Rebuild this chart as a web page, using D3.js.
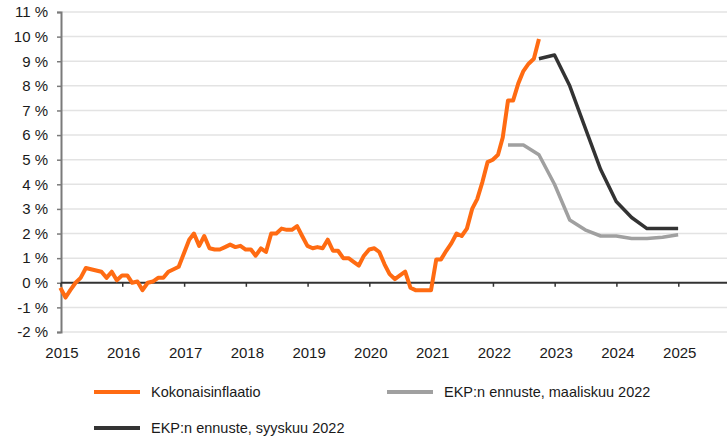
<!DOCTYPE html>
<html>
<head>
<meta charset="utf-8">
<script src="https://cdn.jsdelivr.net/npm/d3@7"></script>
<style>
  body { margin: 0; background: #fff; }
  svg text { font-family: "Liberation Sans", Arial, sans-serif; fill: #1a1a1a; }
</style>
</head>
<body>
<div id="chart"></div>
<script>
// euro area inflation, monthly, first point = Dec 2014
var inflationStart = [2014, 11];
var inflation = [-0.2, -0.6, -0.3, 0.0, 0.2, 0.6, 0.55, 0.5, 0.45, 0.2, 0.45, 0.1,
  0.3, 0.3, 0.0, 0.05, -0.3, 0.0, 0.05, 0.2, 0.2, 0.45, 0.55, 0.65,
  1.2, 1.75, 2.0, 1.5, 1.9, 1.4, 1.35, 1.35, 1.45, 1.55, 1.45, 1.5,
  1.35, 1.35, 1.1, 1.4, 1.25, 2.0, 2.0, 2.2, 2.15, 2.15, 2.3, 1.9,
  1.5, 1.4, 1.45, 1.4, 1.75, 1.3, 1.3, 1.0, 1.0, 0.85, 0.7, 1.1,
  1.35, 1.4, 1.25, 0.75, 0.35, 0.15, 0.3, 0.45, -0.2, -0.3, -0.3, -0.3,
  -0.3, 0.95, 0.95, 1.3, 1.6, 2.0, 1.9, 2.2, 3.0, 3.4, 4.1, 4.9,
  5.0, 5.2, 5.9, 7.4, 7.4, 8.1, 8.6, 8.9, 9.1, 9.9];

// ECB projections, quarterly (quarter end month)
var marchStart = [2022, 2];   // Q1 2022
var marchProj = [5.6, 5.6, 5.2, 4.0, 2.55, 2.15, 1.9, 1.9, 1.8, 1.8, 1.85, 1.95];
var septStart = [2022, 8];    // Q3 2022
var septProj = [9.1, 9.25, 8.0, 6.3, 4.6, 3.3, 2.65, 2.2, 2.2, 2.2];

var years = [2015, 2016, 2017, 2018, 2019, 2020, 2021, 2022, 2023, 2024, 2025];
var yTicks = [-2, -1, 0, 1, 2, 3, 4, 5, 6, 7, 8, 9, 10, 11];

var seriesNames = ["Kokonaisinflaatio", "EKP:n ennuste, maaliskuu 2022", "EKP:n ennuste, syyskuu 2022"];
var seriesColors = ["#ff6b12", "#a0a0a0", "#333333"];

var width = 727, height = 439;

// points sit at the end of their month
var monthEnd = function(start, k, step) {
    return new Date(start[0], start[1] + k * step + 1, 0);
};

var toPoints = function(start, values, step) {
    return values.map(function(v, k) { return {date: monthEnd(start, k, step), value: v}; });
};

var series = [
    toPoints(inflationStart, inflation, 1),
    toPoints(marchStart, marchProj, 3),
    toPoints(septStart, septProj, 3)
];

var x = d3.scaleTime()
    .domain([new Date(2015, 0, 1), new Date(2025, 9, 16)])
    .range([60.5, 727]);
var y = d3.scaleLinear().domain([-2, 11]).range([332, 12]);

var svg = d3.select("#chart").append("svg")
    .attr("width", width)
    .attr("height", height);

// gridlines
svg.append("g").selectAll("line")
    .data(yTicks.filter(function(d) { return d != 0; }))
    .enter().append("line")
    .attr("x1", 61).attr("x2", 727)
    .attr("y1", function(d) { return y(d); })
    .attr("y2", function(d) { return y(d); })
    .attr("stroke", "#e3e3e3")
    .attr("stroke-width", 1.5);

// y axis
var yAxis = d3.axisLeft(y)
    .tickValues(yTicks)
    .tickSize(4)
    .tickPadding(9)
    .tickFormat(function(d) { return d + " %"; });

var gy = svg.append("g")
    .attr("transform", "translate(61,0)")
    .call(yAxis);
gy.select(".domain").attr("stroke", "#7a7a7a").attr("stroke-width", 2);
gy.selectAll(".tick line").attr("stroke", "#7a7a7a").attr("stroke-width", 1.5);
gy.selectAll(".tick text").attr("font-size", 15).attr("fill", "#1a1a1a")
    .attr("font-family", "Liberation Sans, Arial, sans-serif");

// x axis on the zero line
var xAxis = d3.axisBottom(x)
    .tickValues(years.map(function(yr) { return new Date(yr, 0, 1); }))
    .tickSize(4)
    .tickFormat("");

var gx = svg.append("g")
    .attr("transform", "translate(0," + y(0) + ")")
    .call(xAxis);
gx.select(".domain").attr("stroke", "#333").attr("stroke-width", 2)
    .attr("d", "M61,0H727");
gx.selectAll(".tick line").attr("stroke", "#333").attr("stroke-width", 1.5);

// year labels under the plot
svg.append("g").selectAll("text")
    .data(years)
    .enter().append("text")
    .attr("x", function(d) { return x(new Date(d, 0, 1)) + 1.5; })
    .attr("y", 358)
    .attr("text-anchor", "middle")
    .attr("font-size", 15)
    .text(function(d) { return d; });

var line = d3.line()
    .x(function(d) { return x(d.date); })
    .y(function(d) { return y(d.value); });

var widths = [4, 3.5, 3.5];
[1, 2, 0].forEach(function(i) {
    svg.append("path")
        .datum(series[i])
        .attr("fill", "none")
        .attr("stroke", seriesColors[i])
        .attr("stroke-width", widths[i])
        .attr("stroke-linejoin", "round")
        .attr("d", line);
});

// legend
var legendPos = [[94, 392], [387, 392], [94, 428]];
var legend = svg.append("g").selectAll("g")
    .data(seriesNames)
    .enter().append("g")
    .attr("transform", function(d, i) { return "translate(" + legendPos[i][0] + "," + legendPos[i][1] + ")"; });

legend.append("line")
    .attr("x1", 0).attr("x2", 46)
    .attr("stroke", function(d, i) { return seriesColors[i]; })
    .attr("stroke-width", 4);

legend.append("text")
    .attr("x", 57)
    .attr("y", 5)
    .attr("font-size", 14.5)
    .text(function(d) { return d; });
</script>
</body>
</html>
